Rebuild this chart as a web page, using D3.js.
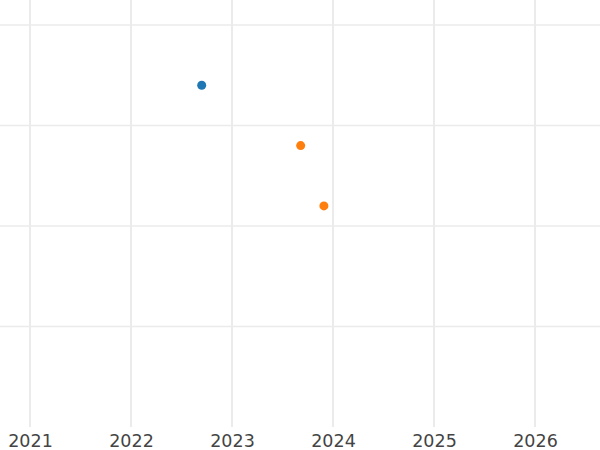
<!DOCTYPE html>
<html><head><meta charset="utf-8">
<script src="https://cdn.jsdelivr.net/npm/d3@7"></script>
<style>body{margin:0;background:#fff}svg{display:block}</style>
</head><body>
<svg id="c" width="600" height="450"></svg>
<script>
const xTickYears = [2021, 2022, 2023, 2024, 2025, 2026];
const yTickValues = [1, 2, 3, 4];
const seriesA_x = [2022.70];
const seriesA_y = [3.40];
const seriesB_x = [2023.68, 2023.91];
const seriesB_y = [2.80, 2.20];
const seriesColors = ["#1f77b4", "#ff7f0e"];

const svg = d3.select("#c");
const x = d3.scaleLinear().domain([2021, 2026]).range([30, 535]);
const y = d3.scaleLinear().domain([0, 4]).range([427, 25]);

const gv = svg.append("g");
gv.selectAll("line").data(xTickYears).join("line")
  .attr("x1", d => x(d)).attr("x2", d => x(d))
  .attr("y1", 0).attr("y2", 427)
  .attr("stroke", "#ebebeb").attr("stroke-width", 2);
const gh = svg.append("g");
gh.selectAll("line").data(yTickValues).join("line")
  .attr("x1", 0).attr("x2", 600)
  .attr("y1", d => y(d)).attr("y2", d => y(d))
  .attr("stroke", "#ebebeb").attr("stroke-width", 1.5);

const ax = svg.append("g").attr("transform", "translate(0,427)")
  .call(d3.axisBottom(x).tickValues(xTickYears).tickFormat(d3.format("d")).tickSize(0).tickPadding(7.5));
ax.select(".domain").remove();
ax.selectAll("text").attr("font-family", "DejaVu Sans, sans-serif").attr("font-size", 17.5).attr("fill", "#444");

const pts = [];
seriesA_x.forEach((v, i) => pts.push({x: v, y: seriesA_y[i], c: seriesColors[0]}));
seriesB_x.forEach((v, i) => pts.push({x: v, y: seriesB_y[i], c: seriesColors[1]}));
svg.append("g").selectAll("circle").data(pts).join("circle")
  .attr("cx", d => x(d.x)).attr("cy", d => y(d.y)).attr("r", 4.5)
  .attr("fill", d => d.c);
</script>
</body></html>
